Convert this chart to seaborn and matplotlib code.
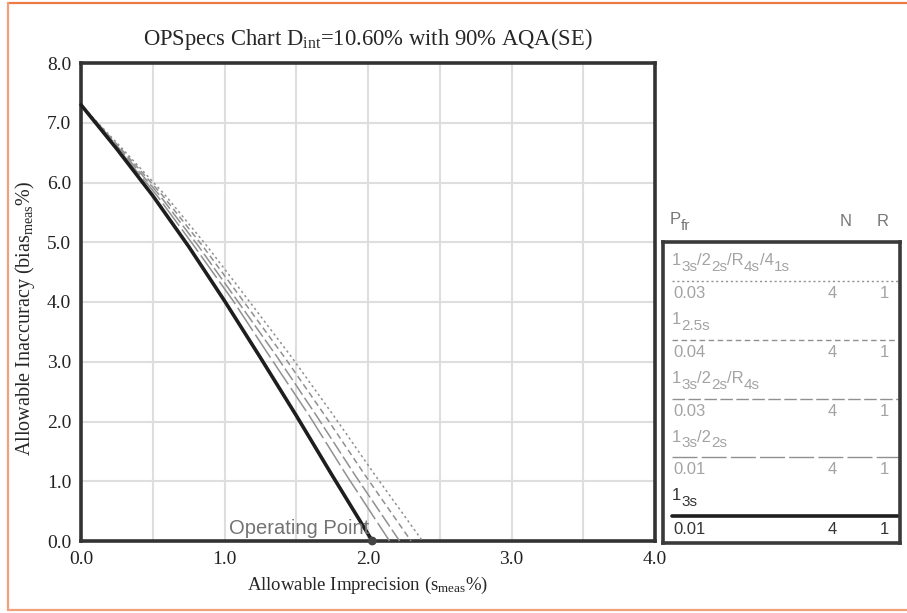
import matplotlib.pyplot as plt
import matplotlib.lines as mlines
import pandas as pd
import seaborn as sns

# OPSpecs curves: allowable imprecision (x) vs inaccuracy (y)
# each rule label is split into (text, subscript?) pieces
rule_pieces = [
    [("1", 0), ("3s", 1), ("/2", 0), ("2s", 1), ("/R", 0), ("4s", 1), ("/4", 0), ("1s", 1)],
    [("1", 0), ("2.5s", 1)],
    [("1", 0), ("3s", 1), ("/2", 0), ("2s", 1), ("/R", 0), ("4s", 1)],
    [("1", 0), ("3s", 1), ("/2", 0), ("2s", 1)],
    [("1", 0), ("3s", 1)],
]
bias_y = [7.3, 6.56, 5.78, 4.93, 4.02, 3.07, 2.1, 1.1, 0.0]
x_41s = [0.0, 0.29, 0.59, 0.88, 1.17, 1.47, 1.76, 2.05, 2.38]
x_25s = [0.0, 0.28, 0.57, 0.85, 1.13, 1.42, 1.70, 1.98, 2.30]
x_r4s = [0.0, 0.27, 0.55, 0.82, 1.09, 1.37, 1.64, 1.91, 2.22]
x_22s = [0.0, 0.26, 0.53, 0.79, 1.06, 1.32, 1.59, 1.85, 2.15]
x_13s = [0.0, 0.25, 0.50, 0.75, 1.00, 1.25, 1.50, 1.75, 2.03]

pfr = ["0.03", "0.04", "0.03", "0.01", "0.01"]
n_runs = ["4", "4", "4", "4", "4"]
r_runs = ["1", "1", "1", "1", "1"]

op_x = [2.03]
op_y = [0.0]

x_ticks = [0.0, 1.0, 2.0, 3.0, 4.0]
y_ticks = [0.0, 1.0, 2.0, 3.0, 4.0, 5.0, 6.0, 7.0, 8.0]

curves = [x_41s, x_25s, x_r4s, x_22s, x_13s]

# line styles, same order as rule_pieces
styles = [
    dict(color="#909090", lw=1.1, dashes=(1.5, 2.0)),
    dict(color="#909090", lw=1.1, dashes=(4.0, 2.5)),
    dict(color="#909090", lw=1.1, dashes=(9.0, 2.5)),
    dict(color="#909090", lw=1.1, dashes=(18.0, 3.0)),
    dict(color="#1e1e1e", lw=2.6, dashes=()),
]
label_colors = ["#a3a3a3", "#a3a3a3", "#a3a3a3", "#a3a3a3", "#333333"]

sns.set_style("white")
plt.rcParams["font.family"] = ["Liberation Serif", "DejaVu Serif"]

fig = plt.figure(figsize=(9.07, 6.13), dpi=100)
W, H = 907, 613

ax = fig.add_axes([81 / W, 1 - 541 / H, (655 - 81) / W, (541 - 63) / H])

for cx, st in zip(curves, styles):
    df = pd.DataFrame({"x": cx, "y": bias_y})
    sns.lineplot(data=df, x="x", y="y", ax=ax, color=st["color"], lw=st["lw"],
                 sort=False, estimator=None, clip_on=False, zorder=3)
    if st["dashes"]:
        ax.lines[-1].set_dashes(st["dashes"])

sns.scatterplot(x=op_x, y=op_y, ax=ax, color="#444444", s=40, edgecolor="none",
                zorder=5, clip_on=False)
ax.text(op_x[0] - 0.02, op_y[0] + 0.05, "Operating Point", ha="right", va="bottom",
        fontsize=14.5, color="#737373", family="Liberation Sans")

ax.set_xlim(0, 4)
ax.set_ylim(0, 8)
ax.set_xticks(x_ticks)
ax.set_xticklabels([f"{v:.1f}" for v in x_ticks])
ax.set_yticks(y_ticks)
ax.set_yticklabels([f"{v:.1f}" for v in y_ticks])
ax.set_xticks([0.5, 1.5, 2.5, 3.5], minor=True)
ax.grid(True, which="both", color="#dedede", lw=1.5, zorder=0)
ax.tick_params(which="both", length=0, labelsize=14, pad=7, colors="#222222")
for sp in ax.spines.values():
    sp.set_linewidth(2.6)
    sp.set_color("#333333")
ax.set_xlabel(r"Allowable Imprecision (s$\mathregular{_{meas}}$%)", fontsize=13.5, labelpad=5)
ax.set_ylabel(r"Allowable Inaccuracy (bias$\mathregular{_{meas}}$%)", fontsize=14.5)
ax.yaxis.set_label_coords(-0.076, 0.466)
ax.set_title(r"OPSpecs Chart D$\mathregular{_{int}}$=10.60% with 90% AQA(SE)", fontsize=16.3, pad=13)

# legend panel, drawn in pixel-like coordinates
lg = fig.add_axes([663 / W, 1 - 543 / H, (900 - 663) / W, (543 - 242) / H])
lg.set_xlim(663, 900)
lg.set_ylim(543, 242)
lg.set_xticks([])
lg.set_yticks([])
for sp in lg.spines.values():
    sp.set_linewidth(2.6)
    sp.set_color("#3a3a3a")

sans = "Liberation Sans"
renderer = fig.canvas.get_renderer()


def draw_pieces(x, y, pieces, color, size=12, gap=0.0):
    # place main text and large subscripts one after another
    for txt, sub in pieces:
        t = lg.text(x, y + (6 if sub else 0), txt, fontsize=size - (1 if sub else 0),
                    color=color, family=sans, va="center", clip_on=False)
        x += t.get_window_extent(renderer).width + gap


draw_pieces(670, 220, [("P", 0), ("fr", 1)], "#777777")
lg.text(846, 222, "N", fontsize=12, color="#777777", family=sans, ha="center", va="center", clip_on=False)
lg.text(883, 222, "R", fontsize=12, color="#777777", family=sans, ha="center", va="center", clip_on=False)

row_top = [261, 320, 379, 437, 496]
for i, pieces in enumerate(rule_pieces):
    y0 = row_top[i]
    draw_pieces(672, y0, pieces, label_colors[i])
    st = styles[i]
    ln = mlines.Line2D([672, 898], [y0 + 20, y0 + 20], color=st["color"],
                       lw=st["lw"] if i == 4 else 1.0)
    if st["dashes"]:
        ln.set_dashes(st["dashes"])
    lg.add_line(ln)
    lg.text(673, y0 + 33, pfr[i], fontsize=12, color=label_colors[i], family=sans, va="center")
    lg.text(832, y0 + 33, n_runs[i], fontsize=12, color=label_colors[i], family=sans, va="center", ha="center")
    lg.text(884, y0 + 33, r_runs[i], fontsize=12, color=label_colors[i], family=sans, va="center", ha="center")

# orange page frame
frame_kw = dict(color="#f2a07c", lw=1.6, transform=fig.transFigure)
fig.add_artist(mlines.Line2D([8 / W, 1], [1 - 3 / H, 1 - 3 / H], **dict(frame_kw, color="#ec7a45")))
fig.add_artist(mlines.Line2D([8 / W, 8 / W], [1 - 3 / H, 1 - 610 / H], **frame_kw))
fig.add_artist(mlines.Line2D([8 / W, 1], [1 - 610 / H, 1 - 610 / H], **frame_kw))

fig.savefig("out.png", dpi=100)
